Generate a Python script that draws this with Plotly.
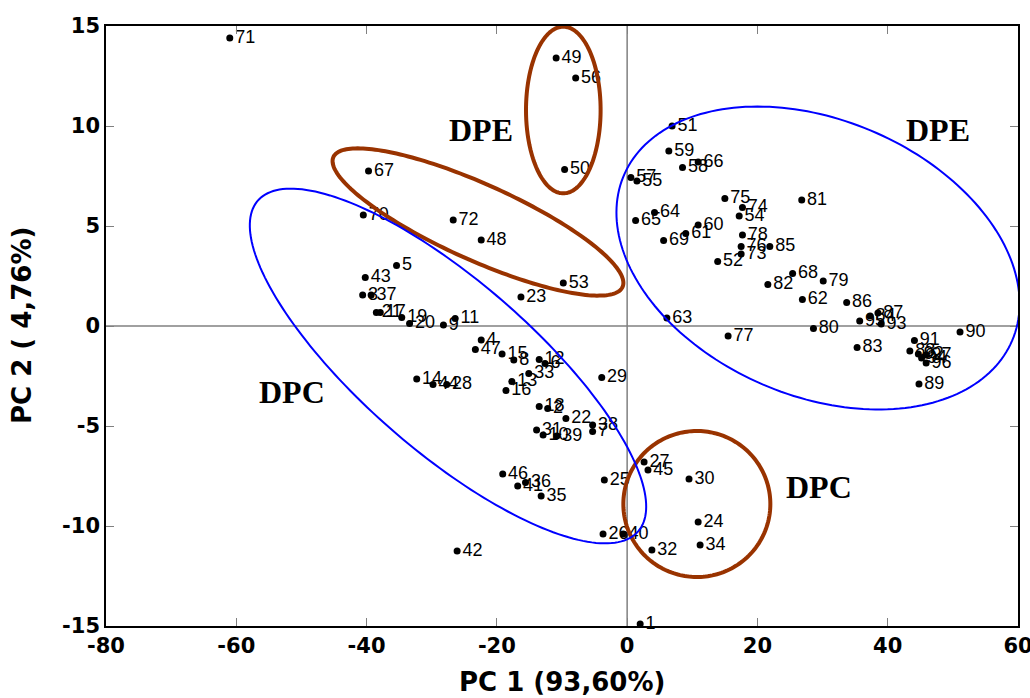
import numpy as np
import plotly.graph_objects as go

labels = [str(i) for i in range(1, 98)]
pc1 = [2.0, -12.2, -40.6, -22.4, -35.4, -12.6, -5.3, -17.4, -28.2, -12.9,
       -26.4, -13.5, -17.7, -32.3, -19.2, -18.6, -37.9, -13.5, -34.6, -33.4,
       -38.5, -9.4, -16.3, 10.9, -3.5, -3.7, 2.6, -27.7, -3.9, 9.5,
       -13.9, 3.8, -15.1, 11.2, -13.2, -15.6, -39.3, -5.3, -10.8, -0.6,
       -16.8, -26.1, -40.2, -29.8, 3.2, -19.1, -23.3, -22.4, -10.9, -9.6,
       6.9, 13.9, -9.8, 17.2, 1.5, -7.9, 0.57, 8.5, 6.4, 10.9,
       9.0, 26.9, 6.1, 4.2, 1.3, 10.9, -39.7, 25.4, 5.6, -40.5,
       -61.0, -26.7, 17.5, 17.7, 15.0, 17.5, 15.5, 17.7, 30.1, 28.6,
       26.8, 21.6, 35.3, 37.3, 21.9, 33.7, 38.5, 43.4, 44.8, 51.1,
       44.1, 44.7, 39.0, 45.2, 35.7, 45.9, 45.9]
pc2 = [-14.9, -4.12, 1.55, -0.7, 3.02, -1.87, -5.28, -1.7, 0.05, -5.45,
       0.38, -1.67, -2.78, -2.65, -1.4, -3.23, 0.67, -4.03, 0.43, 0.13,
       0.67, -4.62, 1.45, -9.8, -7.7, -10.4, -6.8, -2.92, -2.57, -7.65,
       -5.2, -11.2, -2.37, -10.95, -8.5, -7.83, 1.55, -4.95, -5.5, -10.4,
       -8.0, -11.25, 2.42, -2.92, -7.2, -7.4, -1.17, 4.3, 13.4, 7.83,
       10.0, 3.22, 2.15, 5.5, 7.25, 12.4, 7.42, 7.93, 8.75, 5.05,
       4.63, 1.33, 0.4, 5.67, 5.27, 8.2, 7.75, 2.63, 4.27, 5.55,
       14.4, 5.3, 3.6, 5.93, 6.37, 3.97, -0.5, 4.55, 2.25, -0.13,
       6.3, 2.08, -1.08, 0.5, 3.97, 1.18, 0.65, -1.25, -2.9, -0.3,
       -0.73, -1.4, 0.1, -1.6, 0.25, -1.85, -1.45]

x_ticks = [-80, -60, -40, -20, 0, 20, 40, 60]
y_ticks = [-15, -10, -5, 0, 5, 10, 15]

group_names = ["DPE", "DPE", "DPC", "DPC"]
group_x = [-22.4, 47.7, -51.4, 29.4]
group_y = [9.8, 9.8, -3.3, -8.05]

XR = (-80, 60)
YR = (-15, 15)
L, R, T, B = 106, 12, 26, 72
W, H = 1030, 698
pw, ph = W - L - R, H - T - B
sx = pw / (XR[1] - XR[0])
sy = ph / (YR[1] - YR[0])

BROWN = "#993300"
BLUE = "#0000FF"
# ellipse outlines: centre in data units, semi-axes in screen px, tilt in degrees (downward)
ellipses = [
    dict(cx=-9.8, cy=10.8, a=83.3, b=37.3, ang=90, color=BROWN, w=4),
    dict(cx=-22.9, cy=5.2, a=158.5, b=38, ang=24.2, color=BROWN, w=4),
    dict(cx=10.7, cy=-8.9, a=73.5, b=73, ang=0, color=BROWN, w=4),
    dict(cx=-27.5, cy=-2.0, a=252, b=85, ang=41, color=BLUE, w=2),
    dict(cx=29.3, cy=3.4, a=211, b=138, ang=23, color=BLUE, w=2),
]

AX_FONT = "DejaVu Sans, Verdana, sans-serif"

fig = go.Figure()

shapes = [
    dict(type="line", x0=0, x1=0, y0=YR[0], y1=YR[1], xref="x", yref="y",
         line=dict(color="#808080", width=1.5), layer="below"),
    dict(type="line", x0=XR[0], x1=XR[1], y0=0, y1=0, xref="x", yref="y",
         line=dict(color="#808080", width=1.5), layer="below"),
]
t = np.linspace(0, 2 * np.pi, 200)
for e in ellipses:
    th = np.deg2rad(e["ang"])
    px = e["a"] * np.cos(t) * np.cos(th) - e["b"] * np.sin(t) * np.sin(th)
    py = e["a"] * np.cos(t) * np.sin(th) + e["b"] * np.sin(t) * np.cos(th)
    xs = e["cx"] + px / sx
    ys = e["cy"] - py / sy
    path = "M " + " L ".join(f"{a:.3f},{b:.3f}" for a, b in zip(xs, ys)) + " Z"
    shapes.append(dict(type="path", path=path, xref="x", yref="y",
                       line=dict(color=e["color"], width=e["w"]), layer="above"))

fig.add_trace(go.Scatter(
    x=pc1, y=pc2, mode="markers+text", text=labels,
    textposition="middle right",
    textfont=dict(family="Arial, Liberation Sans, sans-serif", size=18, color="black"),
    marker=dict(size=7, color="black"),
    cliponaxis=False, hoverinfo="x+y+text", showlegend=False,
))

annotations = []
for n, gx, gy in zip(group_names, group_x, group_y):
    annotations.append(dict(x=gx, y=gy, xref="x", yref="y", text=f"<b>{n}</b>",
                            showarrow=False,
                            font=dict(family="Times New Roman, Liberation Serif, serif",
                                      size=32, color="black")))
annotations.append(dict(x=0.5, y=0, xref="paper", yref="paper", yshift=-56,
                        yanchor="middle", text="<b>PC 1 (93,60%)</b>", showarrow=False,
                        font=dict(family=AX_FONT, size=26, color="black")))
annotations.append(dict(x=0, y=0.5, xref="paper", yref="paper", xshift=-84,
                        xanchor="center", textangle=-90, text="<b>PC 2 ( 4,76%)</b>",
                        showarrow=False,
                        font=dict(family=AX_FONT, size=26, color="black")))

axis_common = dict(
    showgrid=False, zeroline=False, showline=True, linecolor="black", linewidth=1.5,
    mirror="ticks", ticks="inside", ticklen=8, tickwidth=1, tickcolor="#808080",
    automargin=False, ticklabeloverflow="allow",
    tickfont=dict(family=AX_FONT, size=21, color="black"),
)

fig.update_layout(
    width=W, height=H,
    margin=dict(l=L, r=R, t=T, b=B),
    plot_bgcolor="white", paper_bgcolor="white",
    shapes=shapes, annotations=annotations,
    xaxis=dict(range=list(XR), tickvals=x_ticks,
               ticktext=[f"<b>{v}</b>" for v in x_ticks], **axis_common),
    yaxis=dict(range=list(YR), tickvals=y_ticks,
               ticktext=[f"<b>{v}</b>" for v in y_ticks], **axis_common),
)

fig.write_html("out.html", config={"displayModeBar": False},
               post_script="document.body.style.margin='0';document.body.style.overflow='hidden';")
